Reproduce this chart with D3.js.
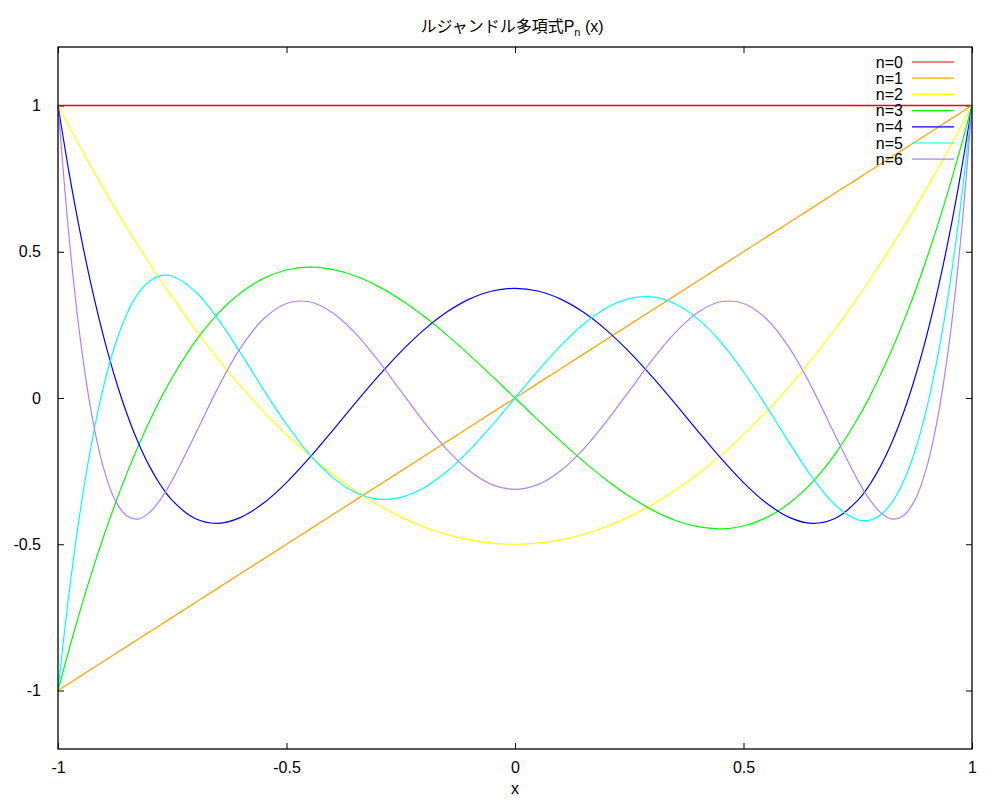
<!DOCTYPE html>
<html><head><meta charset="utf-8">
<script src="https://cdn.jsdelivr.net/npm/d3@7"></script>
<style>
body{margin:0;background:#fff;}
text{font-family:"Liberation Sans","Noto Sans CJK JP",Arial,sans-serif;fill:#000;}
</style></head><body>
<svg id="chart" width="1000" height="800"></svg>
<script>
const xs = [-1, -0.975, -0.95, -0.925, -0.9, -0.875, -0.85, -0.825, -0.8, -0.775, -0.75, -0.7, -0.65, -0.6, -0.55, -0.5, -0.45, -0.4, -0.35, -0.3, -0.25, -0.2, -0.15, -0.1, -0.05, 0, 0.05, 0.1, 0.15, 0.2, 0.25, 0.3, 0.35, 0.4, 0.45, 0.5, 0.55, 0.6, 0.65, 0.7, 0.75, 0.775, 0.8, 0.825, 0.85, 0.875, 0.9, 0.925, 0.95, 0.975, 1];
const p0 = [1,1,1,1,1,1,1,1,1,1,1,1,1,1,1,1,1,1,1,1,1,1,1,1,1,1,1,1,1,1,1,1,1,1,1,1,1,1,1,1,1,1,1,1,1,1,1,1,1,1,1];
const p1 = [-1, -0.975, -0.95, -0.925, -0.9, -0.875, -0.85, -0.825, -0.8, -0.775, -0.75, -0.7, -0.65, -0.6, -0.55, -0.5, -0.45, -0.4, -0.35, -0.3, -0.25, -0.2, -0.15, -0.1, -0.05, 0, 0.05, 0.1, 0.15, 0.2, 0.25, 0.3, 0.35, 0.4, 0.45, 0.5, 0.55, 0.6, 0.65, 0.7, 0.75, 0.775, 0.8, 0.825, 0.85, 0.875, 0.9, 0.925, 0.95, 0.975, 1];
const p2 = [1, 0.9259, 0.8538, 0.7834, 0.715, 0.6484, 0.5838, 0.5209, 0.46, 0.4009, 0.3438, 0.235, 0.1338, 0.04, -0.0463, -0.125, -0.1963, -0.26, -0.3163, -0.365, -0.4063, -0.44, -0.4663, -0.485, -0.4963, -0.5, -0.4963, -0.485, -0.4663, -0.44, -0.4063, -0.365, -0.3163, -0.26, -0.1963, -0.125, -0.0463, 0.04, 0.1338, 0.235, 0.3438, 0.4009, 0.46, 0.5209, 0.5838, 0.6484, 0.715, 0.7834, 0.8538, 0.9259, 1];
const p3 = [-1, -0.8546, -0.7184, -0.5911, -0.4725, -0.3623, -0.2603, -0.1663, -0.08, -0.0012, 0.0703, 0.1925, 0.2884, 0.36, 0.4091, 0.4375, 0.4472, 0.44, 0.4178, 0.3825, 0.3359, 0.28, 0.2166, 0.1475, 0.0747, 0, -0.0747, -0.1475, -0.2166, -0.28, -0.3359, -0.3825, -0.4178, -0.44, -0.4472, -0.4375, -0.4091, -0.36, -0.2884, -0.1925, -0.0703, 0.0012, 0.08, 0.1663, 0.2603, 0.3623, 0.4725, 0.5911, 0.7184, 0.8546, 1];
const p4 = [1, 0.7638, 0.5541, 0.3693, 0.2079, 0.0685, -0.0506, -0.1506, -0.233, -0.2991, -0.3501, -0.4121, -0.4284, -0.408, -0.359, -0.2891, -0.205, -0.113, -0.0187, 0.0729, 0.1577, 0.232, 0.2928, 0.3379, 0.3657, 0.375, 0.3657, 0.3379, 0.2928, 0.232, 0.1577, 0.0729, -0.0187, -0.113, -0.205, -0.2891, -0.359, -0.408, -0.4284, -0.4121, -0.3501, -0.2991, -0.233, -0.1506, -0.0506, 0.0685, 0.2079, 0.3693, 0.5541, 0.7638, 1];
const p5 = [-1, -0.6567, -0.3727, -0.142, 0.0411, 0.182, 0.2857, 0.3567, 0.3995, 0.4182, 0.4164, 0.3652, 0.2705, 0.1526, 0.0282, -0.0898, -0.1917, -0.2706, -0.3225, -0.3454, -0.3397, -0.3075, -0.2523, -0.1788, -0.0927, 0, 0.0927, 0.1788, 0.2523, 0.3075, 0.3397, 0.3454, 0.3225, 0.2706, 0.1917, 0.0898, -0.0282, -0.1526, -0.2705, -0.3652, -0.4164, -0.4182, -0.3995, -0.3567, -0.2857, -0.182, -0.0411, 0.142, 0.3727, 0.6567, 1];
const p6 = [1, 0.5374, 0.1875, -0.0669, -0.2412, -0.3491, -0.4025, -0.414, -0.3918, -0.3449, -0.2808, -0.1253, 0.0347, 0.1721, 0.2708, 0.3232, 0.329, 0.2926, 0.2225, 0.1292, 0.0243, -0.0806, -0.1746, -0.2488, -0.2962, -0.3125, -0.2962, -0.2488, -0.1746, -0.0806, 0.0243, 0.1292, 0.2225, 0.2926, 0.329, 0.3232, 0.2708, 0.1721, 0.0347, -0.1253, -0.2808, -0.3449, -0.3918, -0.414, -0.4025, -0.3491, -0.2412, -0.0669, 0.1875, 0.5374, 1];
const seriesNames = ["n=0","n=1","n=2","n=3","n=4","n=5","n=6"];
const seriesColors = ["#ff0000","#ffa500","#ffff00","#00ff00","#0000ff","#00ffff","#b080ff"];
const xTicks = [-1, -0.5, 0, 0.5, 1];
const yTicks = [-1, -0.5, 0, 0.5, 1];

const series = [p0,p1,p2,p3,p4,p5,p6];
const L = 58, R = 972, T = 47, B = 749;
const svg = d3.select("#chart");
const x = d3.scaleLinear().domain([-1, 1]).range([L, R]);
const y = d3.scaleLinear().domain([-1.2, 1.2]).range([B, T]);

// axes with inward ticks (mirrored)
const fmt = d => String(d);
svg.append("g").attr("transform",`translate(0,${B})`)
  .call(d3.axisBottom(x).tickValues(xTicks).tickSize(-6).tickPadding(13).tickFormat(fmt))
  .call(g=>{g.select(".domain").remove(); g.selectAll("text").attr("font-size",16).attr("font-family",null);});
svg.append("g").attr("transform",`translate(0,${T})`)
  .call(d3.axisTop(x).tickValues(xTicks).tickSize(-6).tickFormat(""))
  .call(g=>g.select(".domain").remove());
svg.append("g").attr("transform",`translate(${L},0)`)
  .call(d3.axisLeft(y).tickValues(yTicks).tickSize(-6).tickPadding(17).tickFormat(fmt))
  .call(g=>{g.select(".domain").remove(); g.selectAll("text").attr("font-size",16).attr("font-family",null);});
svg.append("g").attr("transform",`translate(${R},0)`)
  .call(d3.axisRight(y).tickValues(yTicks).tickSize(-6).tickFormat(""))
  .call(g=>g.select(".domain").remove());
svg.selectAll(".tick line").attr("stroke","#000");

const lineSmooth = d3.line().x((d,i)=>x(xs[i])).y(d=>y(d)).curve(d3.curveCatmullRom.alpha(0.5));
const lineStraight = d3.line().x((d,i)=>x(xs[i])).y(d=>y(d));
const gLines = svg.append("g");
series.forEach((s,k)=>{
  gLines.append("path").attr("d",(k<2?lineStraight:lineSmooth)(s)).attr("fill","none")
    .style("stroke",seriesColors[k]).style("stroke-width",k===0?1.6:1.2);
});

// border
svg.append("rect").attr("x",L).attr("y",T).attr("width",R-L).attr("height",B-T)
  .attr("fill","none").attr("stroke","#000").attr("stroke-width",1.3);

// legend
const lg = svg.append("g");
seriesNames.forEach((nm,k)=>{
  const yy = 62 + k*16.2;
  lg.append("text").attr("x",903).attr("y",yy+5.5).attr("text-anchor","end")
    .attr("font-size",16).text(nm);
  lg.append("line").attr("x1",912).attr("x2",954).attr("y1",yy).attr("y2",yy)
    .attr("stroke",seriesColors[k]).attr("stroke-width",1.2);
});

// title
const title = svg.append("text").attr("x",512).attr("y",32).attr("text-anchor","middle").attr("font-size",16);
title.append("tspan").text("ルジャンドル多項式P");
title.append("tspan").attr("font-size",11).attr("dy",4).text("n");
title.append("tspan").attr("dy",-4).text(" (x)");

// x label
svg.append("text").attr("x",515).attr("y",794).attr("text-anchor","middle").attr("font-size",16).text("x");
</script>
</body></html>
